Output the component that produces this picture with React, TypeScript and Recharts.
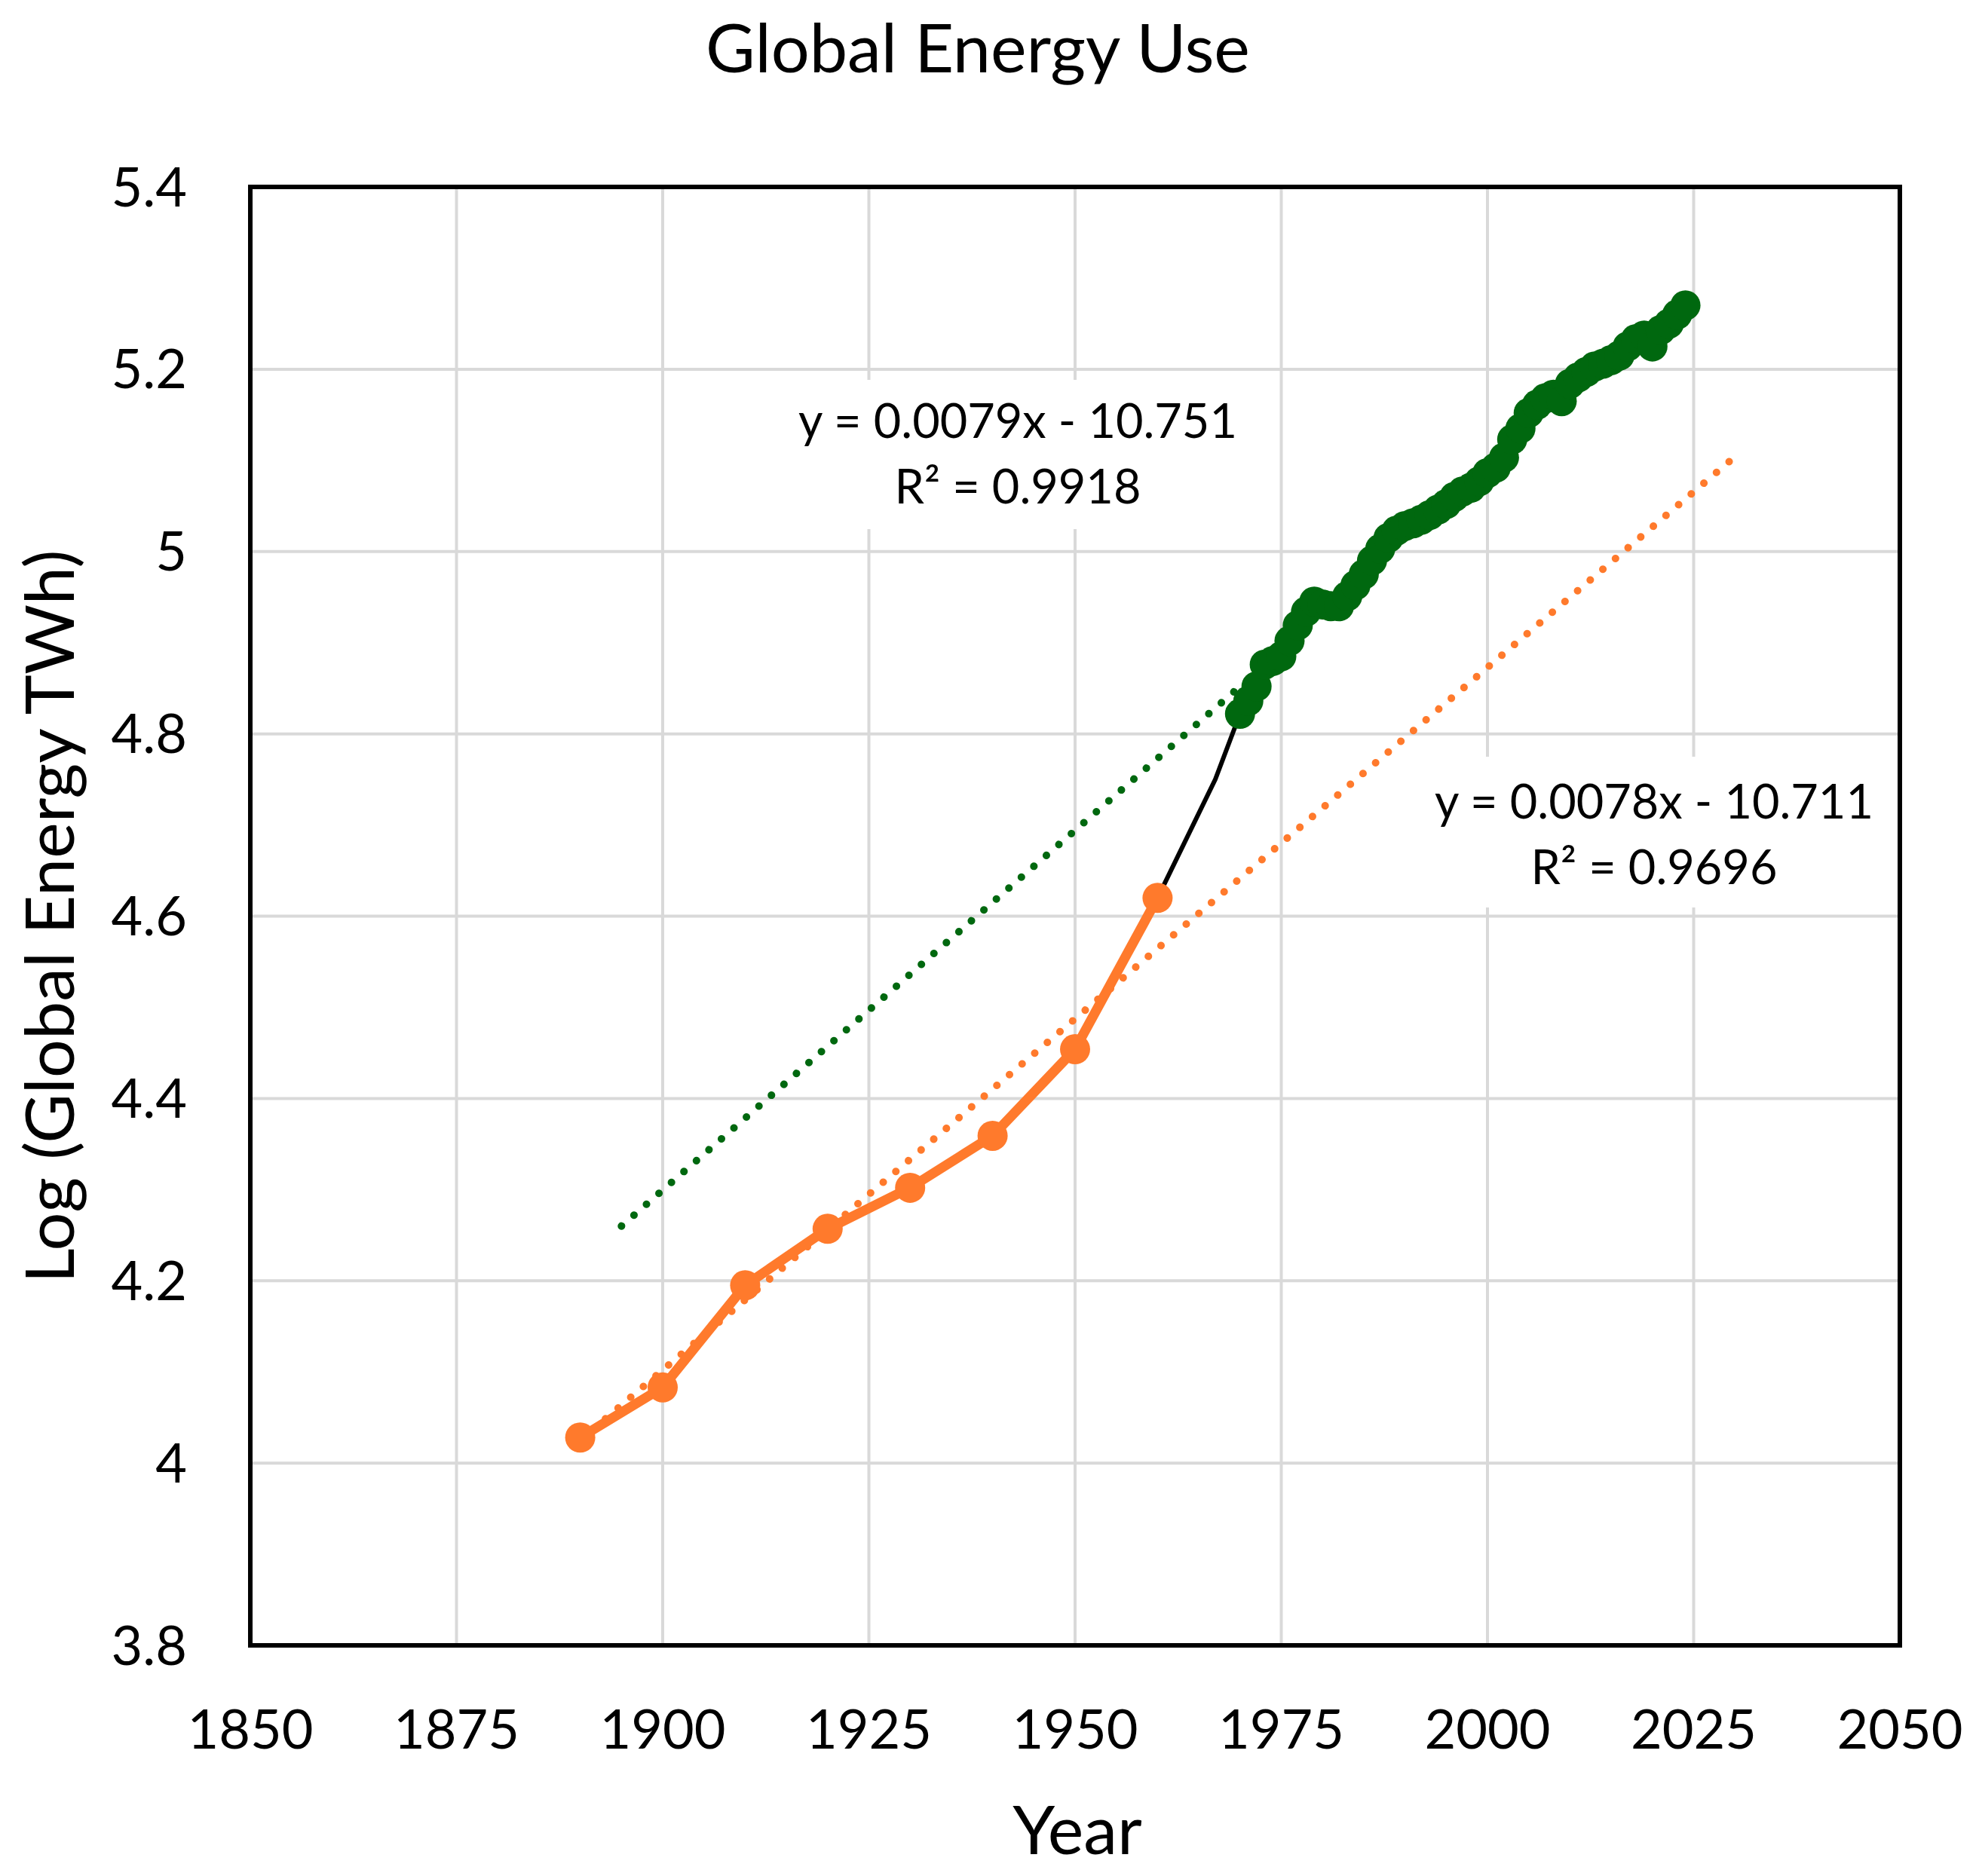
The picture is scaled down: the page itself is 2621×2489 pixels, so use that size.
import { LineChart, Line, XAxis, YAxis, CartesianGrid, ReferenceArea, Customized } from "recharts";

const ORANGE = "#FF7A2C";
const GREEN = "#00680F";
const FONT = "Lato, 'Open Sans', sans-serif";

// log10 of global energy use (TWh)
const earlyYears = [1890, 1900, 1910, 1920, 1930, 1940, 1950, 1960];
const earlyLog = [4.028, 4.083, 4.195, 4.257, 4.302, 4.359, 4.454, 4.62];

const gapYears = [1960, 1967, 1970];
const gapLog = [4.62, 4.75, 4.822];

const recentYears = [
  1970, 1971, 1972, 1973, 1974, 1975, 1976, 1977, 1978, 1979,
  1980, 1981, 1982, 1983, 1984, 1985, 1986, 1987, 1988, 1989,
  1990, 1991, 1992, 1993, 1994, 1995, 1996, 1997, 1998, 1999,
  2000, 2001, 2002, 2003, 2004, 2005, 2006, 2007, 2008, 2009,
  2010, 2011, 2012, 2013, 2014, 2015, 2016, 2017, 2018, 2019,
  2020, 2021, 2022, 2023, 2024,
];
const recentLog = [
  4.822, 4.836, 4.852, 4.876, 4.88, 4.885, 4.902, 4.919, 4.934, 4.945,
  4.942, 4.94, 4.94, 4.951, 4.963, 4.975, 4.99, 5.003, 5.015, 5.023,
  5.028, 5.031, 5.035, 5.04, 5.046, 5.052, 5.06, 5.066, 5.07, 5.077,
  5.086, 5.092, 5.103, 5.123, 5.135, 5.152, 5.161, 5.168, 5.172, 5.165,
  5.184, 5.191, 5.197, 5.203, 5.206, 5.21, 5.215, 5.225, 5.233, 5.237,
  5.225, 5.243, 5.25, 5.26, 5.27,
];

// trendline end points
const earlyTrendYears = [1890, 2030];
const earlyTrendLog = [4.025, 5.104];
const recentTrendYears = [1895, 1970];
const recentTrendLog = [4.26, 4.852];

const xTicks = [1850, 1875, 1900, 1925, 1950, 1975, 2000, 2025, 2050];
const yTicks = [3.8, 4, 4.2, 4.4, 4.6, 4.8, 5, 5.2, 5.4];
const yTickLabels = ["3.8", "4", "4.2", "4.4", "4.6", "4.8", "5", "5.2", "5.4"];

const toRows = (years: number[], vals: number[]) => years.map((year, i) => ({ year, log: vals[i] }));

const early = toRows(earlyYears, earlyLog);
const gap = toRows(gapYears, gapLog);
const recent = toRows(recentYears, recentLog);
const earlyTrend = toRows(earlyTrendYears, earlyTrendLog);
const recentTrend = toRows(recentTrendYears, recentTrendLog);

function Labels() {
  return (
    <g fontFamily={FONT} fill="#000">
      <text x={1297} y={96} fontSize={90} textAnchor="middle">Global Energy Use</text>
      <text x={1429} y={2460} fontSize={90} textAnchor="middle">Year</text>
      <text x={98} y={1216} fontSize={90} textAnchor="middle" transform="rotate(-90 98 1216)">
        Log (Global Energy TWh)
      </text>

      <rect x={1040} y={504} width={620} height={198} fill="#fff" />
      <text x={1350} y={581} fontSize={63} textAnchor="middle">y = 0.0079x - 10.751</text>
      <text x={1350} y={668} fontSize={63} textAnchor="middle">R² = 0.9918</text>

      <rect x={1894} y={1004} width={600} height={200} fill="#fff" />
      <text x={2194} y={1086} fontSize={63} textAnchor="middle">y = 0.0078x - 10.711</text>
      <text x={2194} y={1173} fontSize={63} textAnchor="middle">R² = 0.9696</text>
    </g>
  );
}

export default function App() {
  return (
    <div style={{ position: "absolute", left: 0, top: 0, width: 2621, height: 2489, background: "#fff" }}>
      <LineChart
        width={2621}
        height={2489}
        margin={{ top: 248, right: 101, bottom: 0, left: 0 }}
        style={{ fontFamily: FONT }}
      >
        <CartesianGrid stroke="#D9D9D9" strokeWidth={4} />
        <XAxis
          dataKey="year"
          type="number"
          domain={[1850, 2050]}
          ticks={xTicks}
          height={306}
          axisLine={false}
          tickLine={false}
          tickSize={0}
          tickMargin={86}
          tick={{ fill: "#000", fontSize: 72, fontFamily: FONT }}
          allowDataOverflow
        />
        <YAxis
          type="number"
          domain={[3.8, 5.4]}
          ticks={yTicks}
          width={332}
          axisLine={false}
          tickLine={false}
          tickSize={0}
          tickMargin={84}
          tickFormatter={(_v: number, i: number) => yTickLabels[i]}
          tick={{ fill: "#000", fontSize: 72, fontFamily: FONT }}
          allowDataOverflow
        />
        <ReferenceArea x1={1850} x2={2050} y1={3.8} y2={5.4} fill="none" stroke="#000" strokeWidth={6} />
        <Customized component={Labels} />
        <Line
          data={gap}
          dataKey="log"
          stroke="#000"
          strokeWidth={6}
          dot={false}
          activeDot={false}
          isAnimationActive={false}
        />
        <Line
          data={recentTrend}
          dataKey="log"
          stroke={GREEN}
          strokeWidth={10}
          strokeDasharray="0.1 21.9"
          strokeLinecap="round"
          dot={false}
          activeDot={false}
          isAnimationActive={false}
        />
        <Line
          data={earlyTrend}
          dataKey="log"
          stroke={ORANGE}
          strokeWidth={10}
          strokeDasharray="0.1 21.9"
          strokeLinecap="round"
          dot={false}
          activeDot={false}
          isAnimationActive={false}
        />
        <Line
          data={early}
          dataKey="log"
          stroke={ORANGE}
          strokeWidth={13}
          dot={{ r: 20, fill: ORANGE, stroke: ORANGE, strokeWidth: 0 }}
          activeDot={false}
          isAnimationActive={false}
        />
        <Line
          data={recent}
          dataKey="log"
          stroke={GREEN}
          strokeWidth={10}
          dot={{ r: 20, fill: GREEN, stroke: GREEN, strokeWidth: 0 }}
          activeDot={false}
          isAnimationActive={false}
        />
      </LineChart>
    </div>
  );
}
